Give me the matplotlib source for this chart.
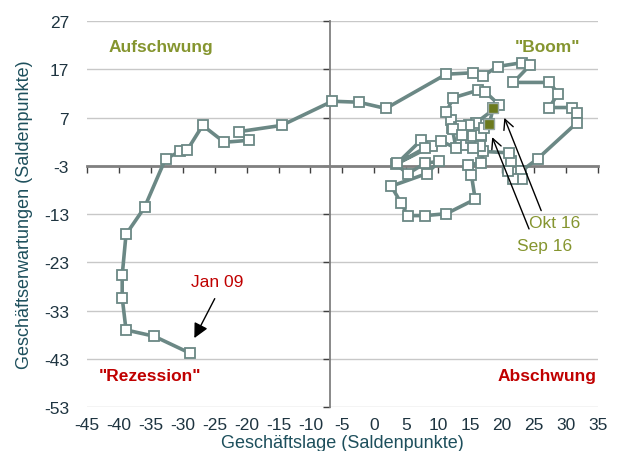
import matplotlib
matplotlib.use("Agg")
import matplotlib.pyplot as plt

plt.rcParams['font.family'] = ['Liberation Sans', 'DejaVu Sans']

# ifo Konjunkturuhr: Geschaeftslage (x) vs. Geschaeftserwartungen (y), Jan 09 .. Okt 16
lage = [-28.9, -34.5, -38.9, -39.5, -39.5, -38.9, -36.0, -32.7, -30.4, -29.3,
        -26.9, -23.5, -19.7, -21.2, -14.5, -6.6, -2.45, 1.8, 11.25, 15.4,
        17.0, 19.3, 23.2, 24.4, 21.8, 27.4, 28.8, 27.4, 31.0, 31.7,
        31.7, 25.6, 23.0, 23.1, 21.7, 20.9, 21.4, 21.1, 17.1, 16.7,
        14.6, 15.2, 15.8, 11.3, 8.0, 5.25, 4.2, 2.65, 8.2, 10.2,
        7.9, 5.25, 3.4, 7.3, 9.1, 7.9, 3.6, 10.5, 12.8, 12.2,
        12.0, 11.3, 12.3, 16.3, 17.4, 19.6, 15.9, 14.9, 13.3, 14.4,
        15.2, 16.7, 16.5, 15.4, 13.6, 12.4, 13.8, 15.4, 16.7, 17.2,
        18.0, 18.6]
erwartungen = [-41.8, -38.3, -37.0, -30.3, -25.7, -17.2, -11.6, -1.5, 0.0, 0.3,
               5.4, 1.9, 2.3, 4.1, 5.4, 10.4, 10.2, 8.9, 16.0, 16.3,
               15.6, 17.6, 18.4, 17.9, 14.3, 14.3, 12.0, 9.1, 9.1, 7.9,
               5.9, -1.5, -4.1, -5.8, -5.8, -4.1, -2.0, -0.3, 0.0, -2.3,
               -2.9, -4.8, -9.9, -12.9, -13.3, -13.3, -10.7, -7.2, -4.6, -2.0,
               -2.5, -4.6, -2.7, 2.3, 1.2, 0.7, -2.5, 2.1, 0.7, 4.9,
               6.6, 8.1, 11.1, 12.7, 12.3, 9.6, 5.9, 5.4, 5.1, 1.4,
               2.8, 3.2, 1.1, 0.7, 5.2, 4.7, 3.5, 3.3, 3.5, 4.9,
               5.6, 8.9]

xticks = list(range(-45, 40, 5))
yticks = list(range(-53, 28, 10))

# Quadranten-Beschriftungen
quadrant_labels = ['Aufschwung', '"Boom"', '"Rezession"', 'Abschwung']
quadrant_pos = [(-41.6, 21.8), (27.1, 21.8), (-35.1, -46.4), (27.1, -46.4)]
quadrant_ha = ['left', 'center', 'center', 'center']

olive = '#85952f'
red = '#c00000'
quadrant_colors = [olive, olive, red, red]

line_col = '#6b8885'

fig = plt.figure(figsize=(6.22, 4.52), dpi=100)
ax = fig.add_axes([0.14, 0.097, 0.821, 0.854])

ax.set_xlim(-45, 35)
ax.set_ylim(-53, 27)

for s in ['top', 'right']:
    ax.spines[s].set_visible(False)
ax.spines['bottom'].set_position(('data', -3))
ax.spines['left'].set_position(('data', -7))
ax.spines['bottom'].set_color('#808080')
ax.spines['bottom'].set_linewidth(2.0)
ax.spines['left'].set_color('#808080')
ax.spines['left'].set_linewidth(1.3)

ax.set_xticks(xticks)
ax.set_yticks(yticks)
ax.tick_params(axis='both', direction='out', length=5, width=1, color='#404040',
               labelbottom=False, labelleft=False)
ax.yaxis.grid(True, color='#c8c8c8', lw=1)
ax.set_axisbelow(True)

tick_col = '#1e3440'
secx = ax.secondary_xaxis(0)
secx.spines['bottom'].set_visible(False)
secx.set_xticks(xticks)
secx.set_xticklabels([str(v) for v in xticks])
secx.tick_params(length=0, pad=7, labelsize=12.5, labelcolor=tick_col)
secx.set_xlabel('Geschäftslage (Saldenpunkte)', fontsize=13, color='#1d4f5c', labelpad=1.5)

secy = ax.secondary_yaxis(0)
secy.spines['left'].set_visible(False)
secy.set_yticks(yticks)
secy.set_yticklabels([str(v) for v in yticks])
secy.tick_params(length=0, pad=13, labelsize=12.5, labelcolor=tick_col)
secy.set_ylabel('Geschäftserwartungen (Saldenpunkte)', fontsize=13, color='#1d4f5c', labelpad=8)

ax.plot(lage, erwartungen, color=line_col, lw=2.6, marker='s', markersize=7.5,
        markerfacecolor='white', markeredgecolor=line_col, markeredgewidth=1.3,
        zorder=3, clip_on=False)
ax.plot(lage[-2:], erwartungen[-2:], ls='none', marker='s', markersize=7.5,
        markerfacecolor='#6b7a1e', markeredgecolor='#9aaaa6', markeredgewidth=1.0,
        zorder=4)

for lab, pos, ha, col in zip(quadrant_labels, quadrant_pos, quadrant_ha, quadrant_colors):
    ax.text(pos[0], pos[1], lab, ha=ha, va='center', fontsize=12.5, fontweight='bold', color=col)

# Pfeile und Monatsmarken
ax.annotate('', xy=(-28.4, -39.2), xytext=(-24.8, -30.0),
            arrowprops=dict(arrowstyle='-|>', color='black', lw=1, mutation_scale=22), zorder=5)
ax.text(-24.6, -27.0, 'Jan 09', ha='center', va='center', fontsize=12.5, color=red)

ax.annotate('', xy=(20.2, 7.5), xytext=(26.3, -12.8),
            arrowprops=dict(arrowstyle='->', color='black', lw=1, mutation_scale=18), zorder=5)
ax.annotate('', xy=(18.3, 3.5), xytext=(24.4, -16.6),
            arrowprops=dict(arrowstyle='->', color='black', lw=1, mutation_scale=18), zorder=5)
ax.text(28.2, -14.8, 'Okt 16', ha='center', va='center', fontsize=12.5, color=olive)
ax.text(26.6, -19.4, 'Sep 16', ha='center', va='center', fontsize=12.5, color=olive)

fig.savefig('out.png', dpi=100)
